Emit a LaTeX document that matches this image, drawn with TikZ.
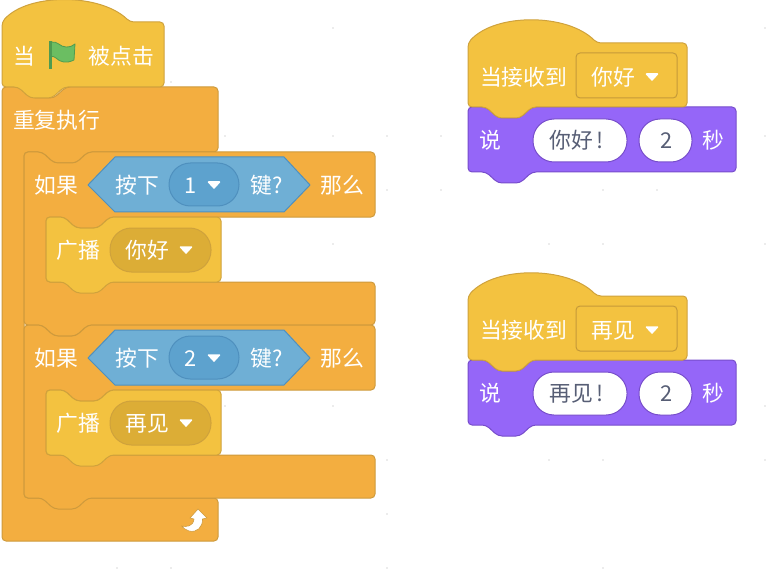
\documentclass[tikz,border=0pt]{standalone}
\usepackage{fontspec}
\setmainfont{Noto Sans CJK SC}
\usepackage{xcolor}
\definecolor{hatcol}{HTML}{F3C240}
\definecolor{hatline}{HTML}{CFA23C}
\definecolor{ctrlcol}{HTML}{F3AE40}
\definecolor{ctrlline}{HTML}{CE9A3C}
\definecolor{sensecol}{HTML}{6FAFD5}
\definecolor{senseline}{HTML}{4F90BE}
\definecolor{sensedark}{HTML}{5DA2CE}
\definecolor{looksol}{HTML}{9566F8}
\definecolor{looksline}{HTML}{774DCB}
\definecolor{castdark}{HTML}{DCAD36}
\definecolor{inktext}{HTML}{575E75}
\definecolor{flagcol}{HTML}{6BBE62}
\definecolor{flagline}{HTML}{4F9B50}
\tikzset{
  block/.style={line width=1pt,rounded corners=4pt,line join=round},
  hatblock/.style={block,fill=hatcol,draw=hatline},
  ctrlblock/.style={block,fill=ctrlcol,draw=ctrlline},
  looksblock/.style={block,fill=looksol,draw=looksline},
  hexblock/.style={line width=1pt,fill=sensecol,draw=senseline,line join=round},
  ddpill/.style={line width=1pt,rounded corners=21.5pt,fill=#1},
  ddtri/.style={fill=white,draw=white,line width=1.5pt,line join=round},
  label/.style={text=white,inner sep=0pt,xshift=0.7pt,yshift=0.6pt,font=\fontsize{21.8}{22}\selectfont},
  inklabel/.style={label,text=inktext},
}
% notch along a top edge (going right) and a bottom edge (going left)
\newcommand{\notchtop}{-- ++(18,0) -- ++(12,11) -- ++(22,0) -- ++(12,-11)}
\newcommand{\notchbot}{-- ++(-12,11) -- ++(-22,0) -- ++(-12,-11)}
% little white drop-down triangle
\newcommand{\ddmark}[2]{\draw[ddtri] (#1-5.5,#2-3) -- (#1+5.5,#2-3) -- (#1,#2+3) -- cycle;}

\begin{document}
\begin{tikzpicture}[x=1pt,y=-1pt]
\useasboundingbox (0,0) rectangle (767,569);

% Workspace dots
\foreach \px/\py in {333/28,765/28,171/82,225/136,333/136,387/136,441/136,765/136,
    387/190,441/190,603/190,657/190,333/244,549/244,603/244,765/244,225/406,333/406,
    765/406,387/460,549/460,603/460,765/460,387/514,117/568,171/568,387/568,603/568}
  \fill[gray!30] (\px,\py) circle (0.9);

% Forever block
\draw[ctrlblock] (2,87) \notchtop -- (218,87) -- (218,152) -- (88,152) \notchbot -- (24,152)
  -- (24,498) -- (218,498) -- (218,541) -- (2,541) -- cycle;
\node[label] (forever) at (56,121) {重复执行};

% Flag hat
\draw[hatblock] (2,22) .. controls (28,-7) and (100,-7) .. (130,22)
  -- (164,22) -- (164,87) -- (64,87) \notchbot -- (2,87) -- cycle;
\node[label] (when) at (24,57) {当};
\node[label] (clicked) at (120.5,57) {被点击};
\draw[fill=flagcol,draw=flagline,line width=0.8pt,line join=round] (51,42)
  .. controls (58,41) and (60,47) .. (66,47) .. controls (70,47) and (73,46) .. (75,44) -- (74,60)
  .. controls (66,64) and (60,62) .. (56,58) .. controls (54,56) and (52,56) .. (51,57) -- cycle;
\fill[flagline] (48.8,41) rectangle (51.5,69);

% Loop arrow
\draw[fill=white,draw=ctrlline,line width=0.6pt,line join=round] (198,509) -- (207,518) -- (202.5,519)
  .. controls (203,527) and (197,533) .. (189,531)
  .. controls (186,530) and (183,528) .. (181.5,526)
  .. controls (186,527) and (193,527) .. (194,519) -- (190,518) -- cycle;

% If blocks with their broadcasts
\foreach \n/\key/\msg/\dy in {1/1/你好/0,2/2/再见/173}{
  \begin{scope}[yshift=-\dy pt]
  \draw[ctrlblock] (24,152) \notchtop -- (375,152) -- (375,217) -- (110,217) \notchbot -- (46,217)
    -- (46,282) -- (375,282) -- (375,325) -- (88,325) \notchbot -- (24,325) -- cycle;
  \node[label] (if\n) at (56,186) {如果};
  \node[label] (then\n) at (341.5,186) {那么};
  % Key condition
  \draw[hexblock] (88,185) -- (115,157) -- (284,157) -- (310,185) -- (284,212) -- (115,212) -- cycle;
  \draw[ddpill=sensedark,draw=senseline] (169,163) rectangle (239,206);
  \node[label] (press\n) at (137,186) {按下};
  \node[label] (num\n) at (190,186) {\key};
  \ddmark{214}{185}
  \node[label] (keyq\n) at (266,186) {键?};
  % Broadcast
  \draw[hatblock] (46,217) \notchtop -- (221,217) -- (221,282) -- (110,282) \notchbot -- (46,282) -- cycle;
  \node[label] (cast\n) at (78,251) {广播};
  \draw[ddpill=castdark,draw=hatline] (110,228) rectangle (211,272);
  \node[label] (msg\n) at (146.5,251) {\msg};
  \ddmark{186}{250}
  \end{scope}
}

% Receive scripts
\foreach \n/\msg/\dy in {1/你好/0,2/再见/253}{
  \begin{scope}[yshift=-\dy pt]
  \draw[looksblock] (468,107) \notchtop -- (736,107) -- (736,172) -- (532,172) \notchbot -- (468,172) -- cycle;
  \draw[hatblock] (468,43) .. controls (495,13) and (567,13) .. (597,43)
    -- (687,43) -- (687,107) -- (532,107) \notchbot -- (468,107) -- cycle;
  \node[label] (recv\n) at (523,78) {当接收到};
  \draw[line width=1pt,rounded corners=4pt,draw=hatline!95!black] (576,53) rectangle (677,98);
  \node[label] (recvmsg\n) at (613,78) {\msg};
  \ddmark{652}{77}
  % Say block
  \node[label] (say\n) at (490,141) {说};
  \draw[line width=1pt,rounded corners=21pt,fill=white,draw=looksline] (533,119) rectangle (627,162);
  \node[inklabel] (saytxt\n) at (576,141) {\msg\,!};
  \draw[line width=1pt,rounded corners=21pt,fill=white,draw=looksline] (639,119) rectangle (692,162);
  \node[inklabel] (secs\n) at (665.5,141) {2};
  \node[label] (secunit\n) at (713,141) {秒};
  \end{scope}
}
\end{tikzpicture}
\end{document}
